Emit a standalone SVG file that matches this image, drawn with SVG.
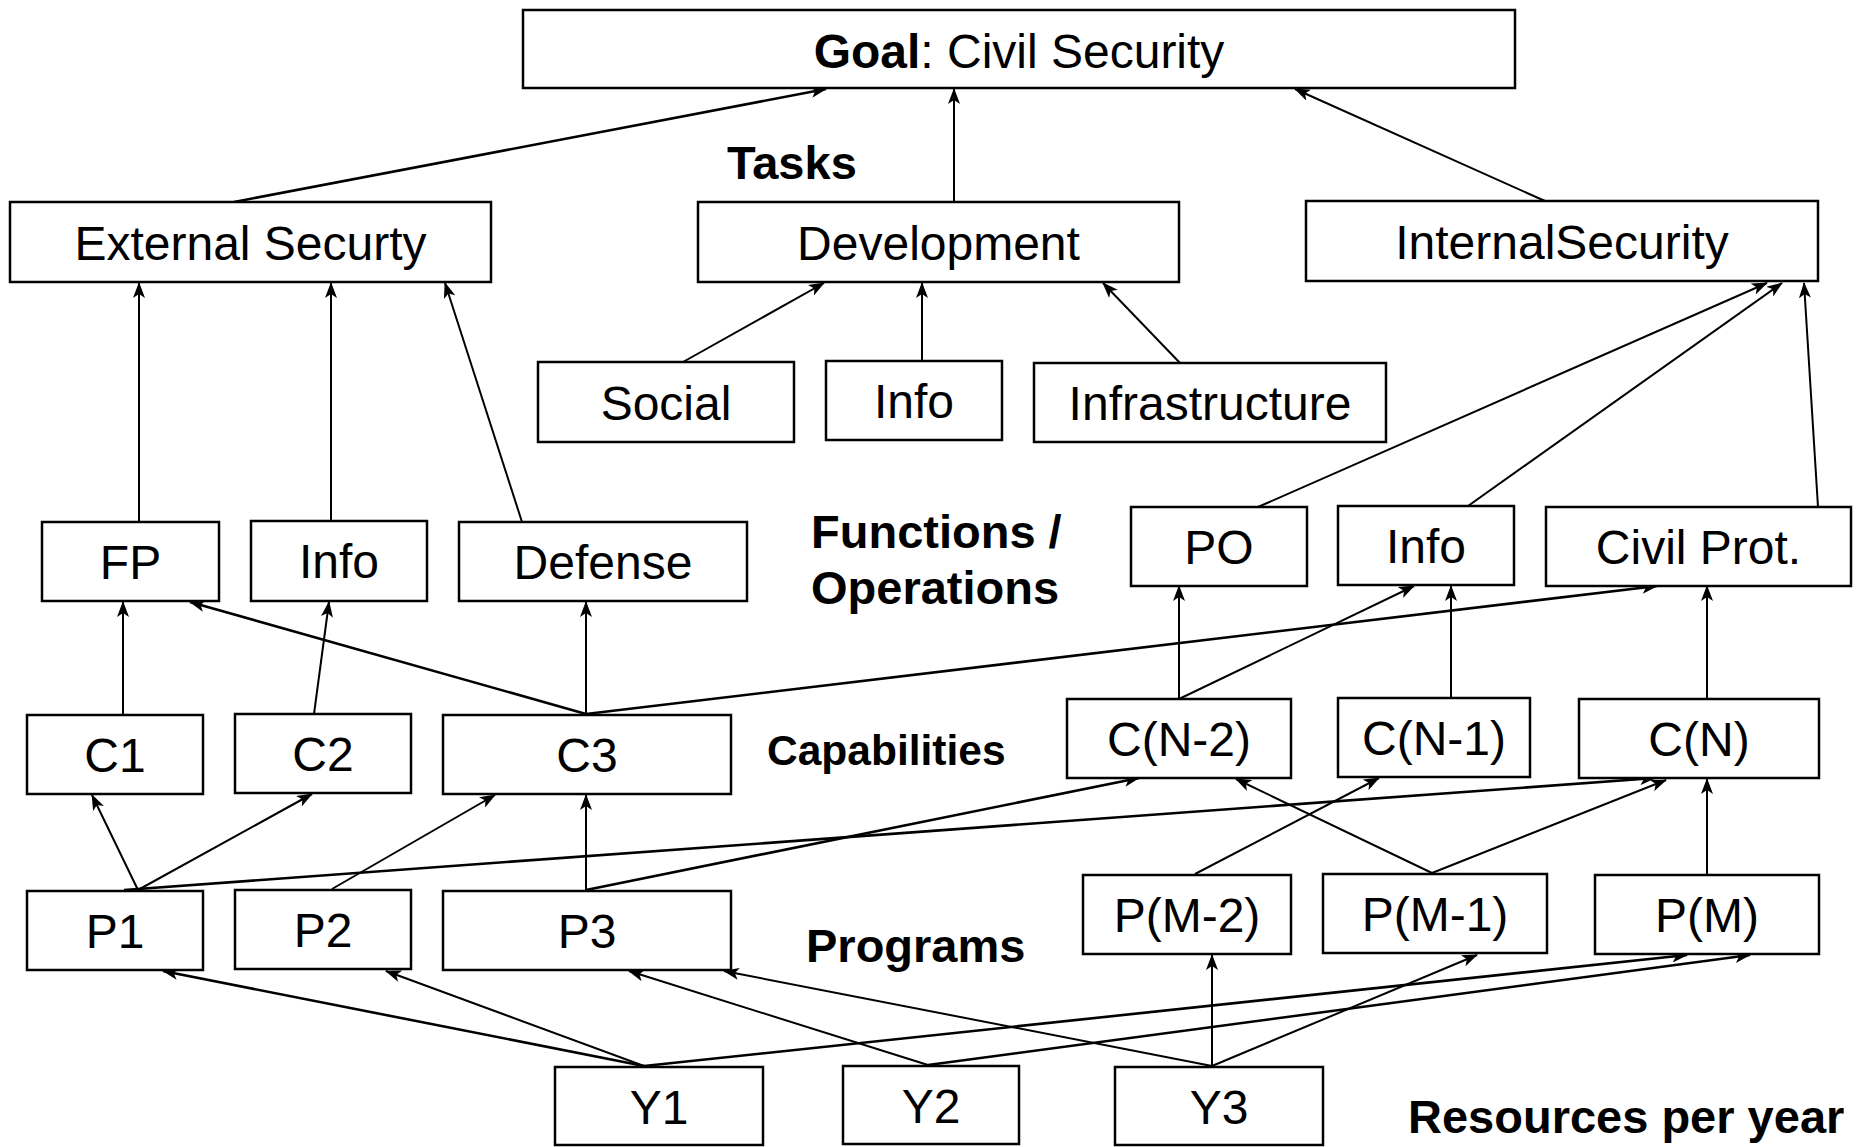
<svg xmlns="http://www.w3.org/2000/svg" width="1858" height="1147" viewBox="0 0 1858 1147">
<style>
.box{fill:#fff;stroke:#000;stroke-width:2.5}
.t{font-family:"Liberation Sans",Arial,sans-serif;font-size:48px;fill:#000;text-anchor:middle}
.lbl{font-family:"Liberation Sans",Arial,sans-serif;font-size:47px;font-weight:bold;fill:#000}
.c line{stroke:#000;stroke-width:2;marker-end:url(#ah)}
.c line.k{stroke-width:2.6}
</style>
<defs>
<marker id="ah" markerUnits="userSpaceOnUse" viewBox="0 0 16 12" refX="15" refY="6" markerWidth="16" markerHeight="12" orient="auto">
<path d="M0,0 L16,6 L0,12 L4,6 z" fill="#000"/>
</marker>
</defs>
<rect width="1858" height="1147" fill="#fff"/>
<g id="connectors" class="c">
<line class="k" x1="234" y1="202" x2="826" y2="89"/>
<line x1="954" y1="202" x2="954" y2="89"/>
<line x1="1545" y1="201" x2="1295" y2="89"/>
<line x1="683" y1="362" x2="824" y2="283"/>
<line x1="922" y1="361" x2="922" y2="283"/>
<line x1="1180" y1="363" x2="1103" y2="283"/>
<line x1="139" y1="522" x2="139" y2="283"/>
<line x1="331" y1="521" x2="331" y2="283"/>
<line x1="522" y1="522" x2="445" y2="283"/>
<line x1="1258" y1="507" x2="1767" y2="283"/>
<line x1="1468" y1="506" x2="1782" y2="283"/>
<line x1="1818" y1="507" x2="1804" y2="283"/>
<line x1="123" y1="715" x2="123" y2="602"/>
<line x1="314" y1="714" x2="329" y2="602"/>
<line class="k" x1="586" y1="714" x2="190" y2="602"/>
<line x1="586" y1="714" x2="586" y2="602"/>
<line class="k" x1="586" y1="714" x2="1657" y2="586"/>
<line x1="1179" y1="699" x2="1179" y2="586"/>
<line x1="1179" y1="699" x2="1414" y2="586"/>
<line x1="1451" y1="698" x2="1451" y2="586"/>
<line x1="1707" y1="699" x2="1707" y2="586"/>
<line x1="138" y1="890" x2="92" y2="795"/>
<line x1="138" y1="890" x2="312" y2="794"/>
<line class="k" x1="124" y1="890" x2="1655" y2="778"/>
<line x1="332" y1="889" x2="495" y2="795"/>
<line x1="586" y1="890" x2="586" y2="795"/>
<line class="k" x1="586" y1="890" x2="1139" y2="778"/>
<line x1="1432" y1="873" x2="1236" y2="779"/>
<line x1="1195" y1="874" x2="1379" y2="778"/>
<line x1="1432" y1="873" x2="1666" y2="780"/>
<line x1="1707" y1="874" x2="1707" y2="779"/>
<line class="k" x1="644" y1="1066" x2="163" y2="971"/>
<line x1="644" y1="1066" x2="386" y2="971"/>
<line class="k" x1="644" y1="1066" x2="1687" y2="955"/>
<line class="k" x1="928" y1="1065" x2="1750" y2="955"/>
<line x1="928" y1="1065" x2="629" y2="971"/>
<line x1="1212" y1="1066" x2="724" y2="971"/>
<line x1="1212" y1="1066" x2="1212" y2="955"/>
<line x1="1212" y1="1066" x2="1477" y2="955"/>
</g>
<g id="goal"><rect class="box" x="523" y="10" width="992" height="78"/><text class="t" x="1019" y="68"><tspan font-weight="bold">Goal</tspan>: Civil Security</text></g>
<g id="ext"><rect class="box" x="10" y="202" width="481" height="80"/><text class="t" x="250.5" y="260">External Securty</text></g>
<g id="dev"><rect class="box" x="698" y="202" width="481" height="80"/><text class="t" x="938.5" y="260">Development</text></g>
<g id="int"><rect class="box" x="1306" y="201" width="512" height="80"/><text class="t" x="1562" y="259">InternalSecurity</text></g>
<g id="social"><rect class="box" x="538" y="362" width="256" height="80"/><text class="t" x="666" y="420">Social</text></g>
<g id="info_dev"><rect class="box" x="826" y="361" width="176" height="79"/><text class="t" x="914" y="418">Info</text></g>
<g id="infra"><rect class="box" x="1034" y="363" width="352" height="79"/><text class="t" x="1210" y="420">Infrastructure</text></g>
<g id="fp"><rect class="box" x="42" y="522" width="177" height="79"/><text class="t" x="130.5" y="579">FP</text></g>
<g id="info_ext"><rect class="box" x="251" y="521" width="176" height="80"/><text class="t" x="339" y="578">Info</text></g>
<g id="defense"><rect class="box" x="459" y="522" width="288" height="79"/><text class="t" x="603" y="579">Defense</text></g>
<g id="po"><rect class="box" x="1131" y="507" width="176" height="79"/><text class="t" x="1219" y="564">PO</text></g>
<g id="info_int"><rect class="box" x="1338" y="506" width="176" height="79"/><text class="t" x="1426" y="563">Info</text></g>
<g id="civil"><rect class="box" x="1546" y="507" width="305" height="79"/><text class="t" x="1698.5" y="564">Civil Prot.</text></g>
<g id="c1"><rect class="box" x="27" y="715" width="176" height="79"/><text class="t" x="115" y="772">C1</text></g>
<g id="c2"><rect class="box" x="235" y="714" width="176" height="79"/><text class="t" x="323" y="771">C2</text></g>
<g id="c3"><rect class="box" x="443" y="715" width="288" height="79"/><text class="t" x="587" y="772">C3</text></g>
<g id="cn2"><rect class="box" x="1067" y="699" width="224" height="79"/><text class="t" x="1179" y="756">C(N-2)</text></g>
<g id="cn1"><rect class="box" x="1338" y="698" width="192" height="79"/><text class="t" x="1434" y="755">C(N-1)</text></g>
<g id="cn"><rect class="box" x="1579" y="699" width="240" height="79"/><text class="t" x="1699" y="756">C(N)</text></g>
<g id="p1"><rect class="box" x="27" y="891" width="176" height="79"/><text class="t" x="115" y="948">P1</text></g>
<g id="p2"><rect class="box" x="235" y="890" width="176" height="79"/><text class="t" x="323" y="947">P2</text></g>
<g id="p3"><rect class="box" x="443" y="891" width="288" height="79"/><text class="t" x="587" y="948">P3</text></g>
<g id="pm2"><rect class="box" x="1083" y="875" width="208" height="79"/><text class="t" x="1187" y="932">P(M-2)</text></g>
<g id="pm1"><rect class="box" x="1323" y="874" width="224" height="79"/><text class="t" x="1435" y="931">P(M-1)</text></g>
<g id="pm"><rect class="box" x="1595" y="875" width="224" height="79"/><text class="t" x="1707" y="932">P(M)</text></g>
<g id="y1"><rect class="box" x="555" y="1067" width="208" height="78"/><text class="t" x="659" y="1124">Y1</text></g>
<g id="y2"><rect class="box" x="843" y="1066" width="176" height="78"/><text class="t" x="931" y="1123">Y2</text></g>
<g id="y3"><rect class="box" x="1115" y="1067" width="208" height="78"/><text class="t" x="1219" y="1124">Y3</text></g>
<g id="labels">
<text class="lbl" x="727" y="179">Tasks</text>
<text class="lbl" x="811" y="548">Functions /</text>
<text class="lbl" x="811" y="604">Operations</text>
<text class="lbl" x="767" y="765" style="font-size:42.5px">Capabilities</text>
<text class="lbl" x="806" y="962">Programs</text>
<text class="lbl" x="1408" y="1133" style="font-size:47px">Resources per year</text>
</g>
</svg>
